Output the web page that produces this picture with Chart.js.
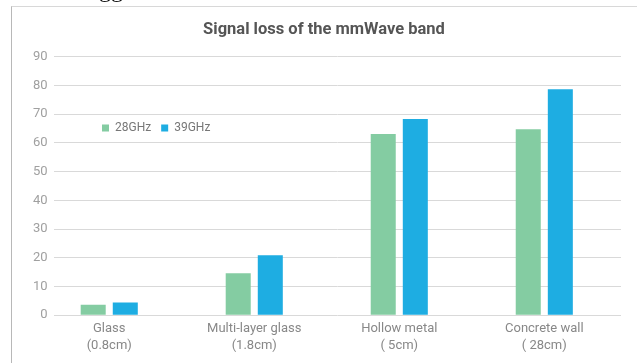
<!DOCTYPE html>
<html>
<head>
<meta charset="utf-8">
<script src="https://cdn.jsdelivr.net/npm/chart.js@4/dist/chart.umd.min.js"></script>
<style>
  html, body { margin: 0; padding: 0; background: #fff; }
  body { width: 637px; height: 363px; position: relative; overflow: hidden; }
  #frame {
    position: absolute; left: 11px; top: 6px; width: 626px; height: 357px;
    border-top: 1px solid #d8d8d8; border-left: 1px solid #b8b8b8;
  }
  #wrap { position: absolute; left: 0; top: 0; width: 637px; height: 363px; }
</style>
</head>
<body>
<div id="frame"></div>
<div id="wrap"><canvas id="chart"></canvas></div>
<script>
// Materials tested and measured attenuation (dB) per band
const categories = [
  ['Glass', '(0.8cm)'],
  ['Multi-layer glass', '(1.8cm)'],
  ['Hollow metal', '( 5cm)'],
  ['Concrete wall', '( 28cm)']
];
const series28 = [3.6, 14.6, 63.1, 64.8];
const series39 = [4.4, 20.9, 68.3, 78.7];
const seriesNames = ['28GHz', '39GHz'];
const yTicks = [0, 10, 20, 30, 40, 50, 60, 70, 80, 90];

const FONT = 'Roboto, "Open Sans", sans-serif';

const toPoints = vals => vals.map((v, i) => ({ x: i, y: v }));

// Legend sits inside the plot as a single row, left of the tall bars
const legendInside = {
  id: 'legendInside',
  beforeLayout(chart) {
    if (chart.legend) chart.legend.isHorizontal = () => true;
  },
  afterLayout(chart) {
    const lg = chart.legend;
    if (!lg) return;
    const dx = 92 - lg.left, dy = 112 - lg.top;
    lg.left += dx; lg.right += dx; lg.top += dy; lg.bottom += dy;
  }
};

// Cut-off line of document text above the panel
const topFragment = {
  id: 'topFragment',
  beforeDraw(chart) {
    const ctx = chart.ctx;
    ctx.save();
    ctx.font = '24px "Liberation Serif", serif';
    ctx.fillStyle = '#111';
    ctx.textBaseline = 'alphabetic';
    ctx.fillText('gg', 99, -3);
    ctx.restore();
  }
};

new Chart(document.getElementById('chart'), {
  type: 'bar',
  data: {
    datasets: [
      { label: seriesNames[0], data: toPoints(series28), backgroundColor: '#84cca2',
        categoryPercentage: 0.4424, barPercentage: 0.78 },
      { label: seriesNames[1], data: toPoints(series39), backgroundColor: '#1eade2',
        categoryPercentage: 0.4424, barPercentage: 0.78 }
    ]
  },
  options: {
    responsive: true,
    maintainAspectRatio: false,
    animation: false,
    layout: { padding: { left: 27, right: 16, top: 0, bottom: 4 } },
    plugins: {
      title: {
        display: true,
        text: 'Signal loss of the mmWave band',
        color: '#555',
        font: { family: FONT, size: 16.5, weight: 'bold' },
        padding: { top: 20, bottom: 17 }
      },
      legend: {
        position: 'chartArea',
        align: 'start',
        labels: {
          boxWidth: 7, boxHeight: 7,
          color: '#777',
          font: { family: FONT, size: 12 },
          padding: 10
        }
      },
      tooltip: { enabled: false }
    },
    scales: {
      x: {
        type: 'linear',
        offset: false,
        min: -0.3836,
        max: 3.529,
        afterBuildTicks(scale) {
          scale.ticks = categories.map((c, i) => ({ value: i }));
        },
        grid: { display: false, drawTicks: false },
        border: { display: false },
        ticks: {
          padding: 5,
          color: '#888',
          font: { family: FONT, size: 13, lineHeight: 1.3 },
          maxRotation: 0,
          autoSkip: false,
          callback: v => categories[v] || ''
        }
      },
      y: {
        min: 0,
        max: 90,
        afterBuildTicks(scale) {
          scale.ticks = yTicks.map(v => ({ value: v }));
        },
        grid: { color: '#d9d9d9', lineWidth: 1, drawTicks: false },
        border: { display: false },
        ticks: {
          padding: 6,
          color: '#a0a0a0',
          font: { family: FONT, size: 13 }
        }
      }
    }
  },
  plugins: [legendInside, topFragment]
});
</script>
</body>
</html>
